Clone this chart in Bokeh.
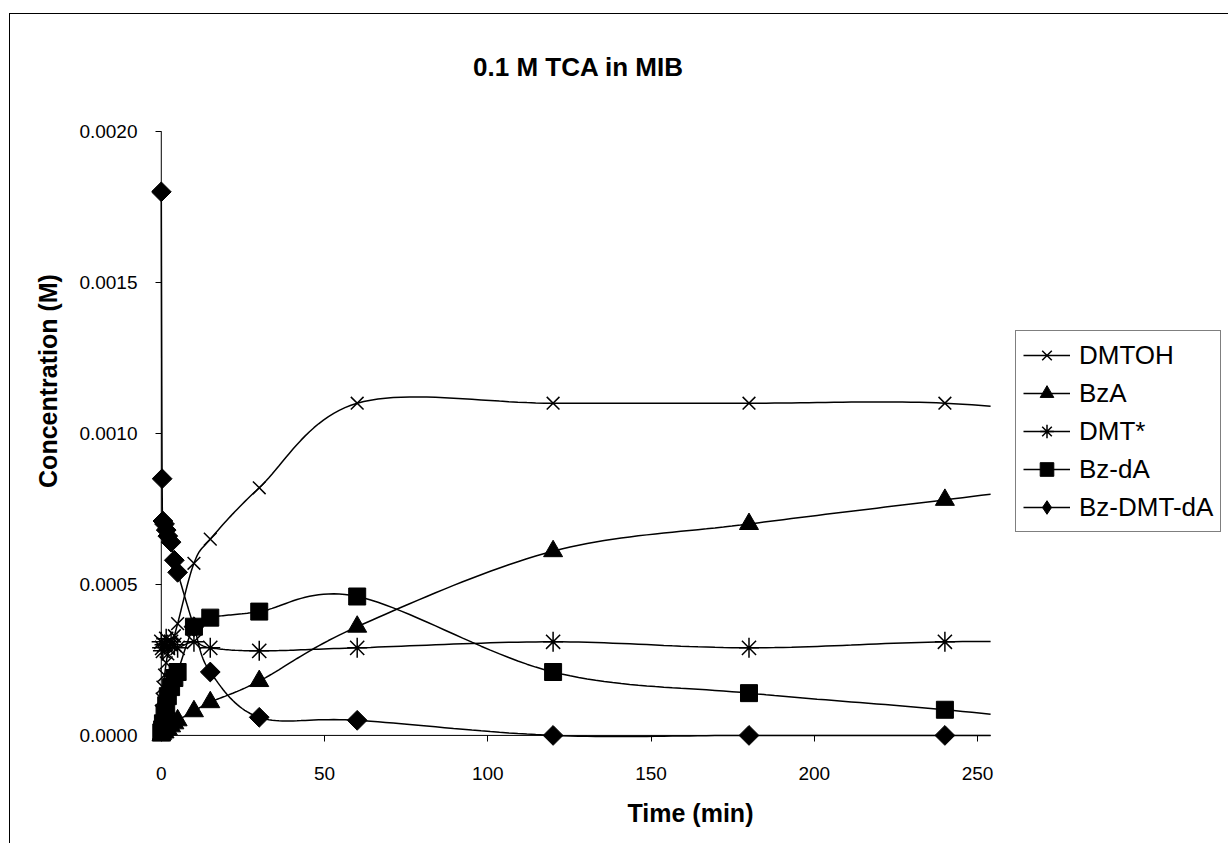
import numpy as np
from bokeh.plotting import figure
from bokeh.models import Range1d, FixedTicker, Legend, LegendItem, Title, Label, PrintfTickFormatter
from bokeh.embed import file_html
from bokeh.resources import INLINE

# ---- data ----
time_min = [0, 0.25, 0.5, 1, 1.5, 2, 3, 4, 5, 10, 15, 30, 60, 120, 180, 240, 300]
dmtoh = [0.00008, 0.00012, 0.00016, 0.00020, 0.00024, 0.00027, 0.00030, 0.00033, 0.00037,
         0.00057, 0.00065, 0.00082, 0.00110, 0.00110, 0.00110, 0.00110, 0.00104]
bza = [0.0, 0.000005, 0.00001, 0.00001, 0.00002, 0.00002, 0.00003, 0.00004, 0.00005,
       0.00008, 0.00011, 0.00018, 0.00036, 0.00061, 0.00070, 0.00078, 0.00086]
dmt_star = [0.00031, 0.00029, 0.00028, 0.00030, 0.00032, 0.00029, 0.00031, 0.00030, 0.00029,
            0.00031, 0.00029, 0.00028, 0.00029, 0.00031, 0.00029, 0.00031, 0.00031]
bz_da = [0.00001, 0.00002, 0.00004, 0.00007, 0.00010, 0.00013, 0.00016, 0.00019, 0.00021,
         0.00036, 0.00039, 0.00041, 0.00046, 0.00021, 0.00014, 0.000085, 0.00002]
bz_dmt_da = [0.0018, 0.00085, 0.00071, 0.00070, 0.00068, 0.00066, 0.00064, 0.00058, 0.00054,
             0.00036, 0.00021, 0.00006, 0.00005, 0.0, 0.0, 0.0, 0.0]
series_names = ["DMTOH", "BzA", "DMT*", "Bz-dA", "Bz-DMT-dA"]
x_ticks = [0, 50, 100, 150, 200, 250]
y_ticks = [0.0, 0.0005, 0.0010, 0.0015, 0.0020]
title_text = "0.1 M TCA in MIB"
x_title = "Time (min)"
y_title = "Concentration (M)"

# ---- layout constants ----
FONT = "Liberation Sans"
W, H = 1219, 830                 # figure size (page offset 10, 14 by margin + border)
OX, OY = 10, 14
BL, BR, BT, BB = 141, 0, 0, 97
XPX, YPX = 3.265, 302000.0       # pixels per data unit
X0, Y0 = -3.0, -0.00004
X_END, Y_END = 254.0, 0.0020     # visible extent of the plot area
FW, FH = W - BL - BR, H - BT - BB
X1 = X0 + FW / XPX
Y1 = Y0 + FH / YPX
FRAME_L, FRAME_B = OX + BL, OY + FH


def page_to_data(px, py):
    return (px - FRAME_L) / XPX + X0, (FRAME_B - py) / YPX + Y0


def smooth(xs, ys, n=24):
    P = np.column_stack([np.asarray(xs, float) * XPX, np.asarray(ys, float) * YPX])
    m = len(P)
    pts = [P[0]]
    tt = np.linspace(0, 1, n)[1:, None]
    for i in range(m - 1):
        p0 = P[i - 1] if i > 0 else P[i]
        p1, p2 = P[i], P[i + 1]
        p3 = P[i + 2] if i + 2 < m else P[i + 1]
        c1 = p1 + (p2 - p0) / 6.0
        c2 = p2 - (p3 - p1) / 6.0
        b = (1 - tt) ** 3 * p1 + 3 * (1 - tt) ** 2 * tt * c1 + 3 * (1 - tt) * tt ** 2 * c2 + tt ** 3 * p2
        pts.extend(b)
    pts = np.array(pts)
    sx, sy = pts[:, 0] / XPX, pts[:, 1] / YPX
    # cut the curve at the right edge of the plot area
    keep = sx <= X_END
    k = int(np.argmin(keep)) if not keep.all() else len(sx)
    cx, cy = list(sx[:k]), list(sy[:k])
    if k < len(sx):
        f = (X_END - sx[k - 1]) / (sx[k] - sx[k - 1])
        cx.append(X_END)
        cy.append(sy[k - 1] + f * (sy[k] - sy[k - 1]))
    return cx, cy


p = figure(width=W, height=H, output_backend="svg", toolbar_location=None,
           x_range=Range1d(X0, X1), y_range=Range1d(Y0, Y1),
           min_border_left=BL, min_border_right=BR, min_border_top=BT, min_border_bottom=BB)
p.margin = (13, 0, 0, 9)
p.styles = {"border-left": "1px solid black", "border-top": "1px solid black"}
p.outline_line_color = None
p.grid.visible = False
p.background_fill_color = "white"
p.border_fill_color = "white"

for ax in (p.xaxis[0], p.yaxis[0]):
    ax.axis_line_color = None
    ax.major_tick_line_color = "black"
    ax.major_tick_line_width = 1
    ax.minor_tick_line_color = None
    ax.major_label_text_font = FONT
    ax.major_label_text_font_size = "19px"
    ax.major_label_text_color = "black"
p.xaxis.ticker = FixedTicker(ticks=x_ticks)
p.yaxis.ticker = FixedTicker(ticks=y_ticks)
p.yaxis.formatter = PrintfTickFormatter(format="%.4f")
# axes sit at the frame edge; ticks are shifted so they start at the zero lines
p.xaxis.major_tick_in = 12
p.xaxis.major_tick_out = -6
p.yaxis.major_tick_in = 10
p.yaxis.major_tick_out = -4
p.xaxis.major_label_standoff = 19
p.yaxis.major_label_standoff = 14

# zero lines acting as the axis lines
p.segment(x0=[0], y0=[0], x1=[X_END], y1=[0], line_color="black", line_width=1)
p.segment(x0=[0], y0=[0], x1=[0], y1=[Y_END], line_color="black", line_width=1)

data = [dmtoh, bza, dmt_star, bz_da, bz_dmt_da]
markers = [dict(marker="x", size=18, line_width=1.5, fill_color=None),
           dict(marker="triangle", size=19, line_width=1),
           dict(marker="asterisk", size=20, line_width=1.5, fill_color=None),
           dict(marker="square", size=17, line_width=1),
           dict(marker="square", size=14, line_width=1, angle=np.pi / 4)]

vis = [i for i, t in enumerate(time_min) if t <= X_END]
t_vis = [time_min[i] for i in vis]

items = []
for name, ys, mk in zip(series_names, data, markers):
    sx, sy = smooth(time_min, ys)
    lr = p.line(sx, sy, line_color="black", line_width=1.5)
    kw = dict(mk)
    fc = kw.pop("fill_color", "black")
    y_vis = [ys[i] for i in vis]
    sr = p.scatter(t_vis, y_vis, line_color="black", fill_color=fc, **kw)
    rs = [lr, sr]
    if "angle" in kw:
        # the legend does not rotate markers, so it gets an unrotated diamond twin
        twin = p.scatter(t_vis, y_vis, marker="diamond", size=22, line_color="black",
                         fill_color="black", visible=False)
        rs = [lr, twin]
    items.append(LegendItem(label=name, renderers=rs))

legend = Legend(items=items, location=(864, 215), orientation="vertical",
                border_line_color="black", border_line_width=1, background_fill_color="white",
                background_fill_alpha=1, label_text_font=FONT, label_text_font_size="26px",
                label_text_color="black", glyph_width=47, glyph_height=34, label_height=34,
                label_standoff=9, spacing=4, padding=7, margin=0,
                inactive_fill_alpha=0.0)
p.add_layout(legend, "center")

# chart title (inside the frame area, positioned in data units)
tx, ty = page_to_data(578, 66)
p.add_layout(Label(x=tx, y=ty, text=title_text,
                   text_font=FONT, text_font_size="26px", text_font_style="bold",
                   text_align="center", text_baseline="middle", text_color="black"))

frame_cx = FRAME_L + FW / 2
frame_cy = OY + FH / 2
p.add_layout(Title(text=x_title, align="center", offset=572 - frame_cx, standoff=28,
                   text_font=FONT, text_font_size="25px", text_font_style="bold",
                   text_color="black"), "below")
p.add_layout(Title(text=y_title, align="center", offset=frame_cy - 433, standoff=30,
                   text_font=FONT, text_font_size="25px", text_font_style="bold",
                   text_color="black"), "left")

open("out.html", "w").write(file_html(p, INLINE))
